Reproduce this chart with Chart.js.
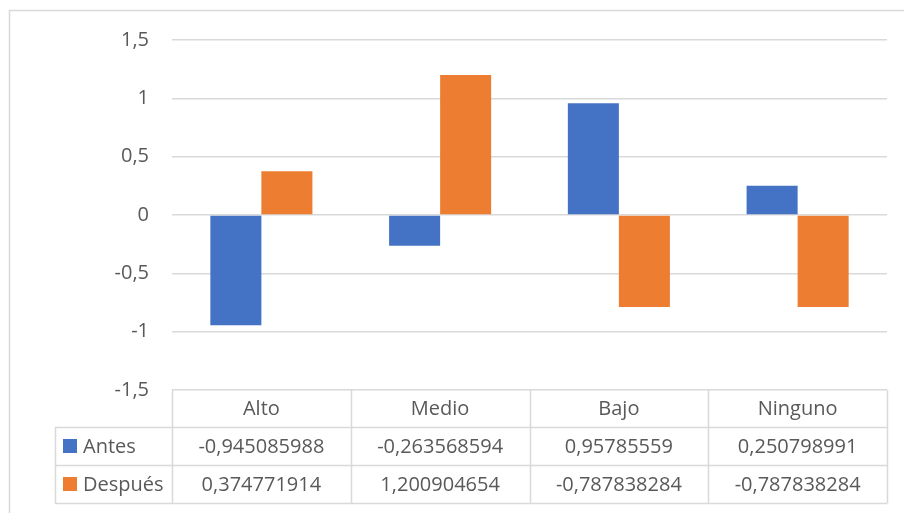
<!DOCTYPE html>
<html>
<head>
<meta charset="utf-8">
<script src="https://cdn.jsdelivr.net/npm/chart.js@4"></script>
<style>
  html, body { margin: 0; padding: 0; background: #ffffff; }
  #wrap { position: relative; width: 904px; height: 513px; }
</style>
</head>
<body>
<div id="wrap"><canvas id="chart" width="904" height="513"></canvas></div>
<script>
// Categories and series values
const categories = ['Alto', 'Medio', 'Bajo', 'Ninguno'];
const seriesNames = ['Antes', 'Después'];
const antes = [-0.945085988, -0.263568594, 0.95785559, 0.250798991];
const despues = [0.374771914, 1.200904654, -0.787838284, -0.787838284];
const seriesColors = ['#4472C4', '#ED7D31'];

const FONT = "'Open Sans', 'Noto Sans', sans-serif";
const TEXT = '#595959';
const LINE = '#D9D9D9';

const fmt = v => String(v).replace('.', ',');

// Data table drawn under the plot, aligned to the category scale
const dataTable = {
  id: 'dataTable',
  afterDraw(chart) {
    const ctx = chart.ctx;
    const x = chart.scales.x;
    const area = chart.chartArea;
    const rowH = 38.3;
    const top = area.bottom;
    const rows = [top, top + rowH - 1.5, top + 2 * rowH - 1.5, top + 3 * rowH - 1.5];
    const legendLeft = 55;
    const half = (x.getPixelForValue(1) - x.getPixelForValue(0)) / 2;
    const bounds = categories.map((c, i) => x.getPixelForValue(i) - half);
    bounds.push(x.getPixelForValue(categories.length - 1) + half);

    ctx.save();
    ctx.strokeStyle = LINE;
    ctx.lineWidth = 1.5;
    ctx.beginPath();
    // horizontal rules
    for (let r = 1; r < rows.length; r++) {
      ctx.moveTo(legendLeft, Math.round(rows[r]) + 0.5);
      ctx.lineTo(area.right, Math.round(rows[r]) + 0.5);
    }
    // vertical rules
    bounds.forEach(bx => {
      ctx.moveTo(Math.round(bx) + 0.5, top);
      ctx.lineTo(Math.round(bx) + 0.5, Math.round(rows[3]) + 0.5);
    });
    ctx.moveTo(legendLeft + 0.5, Math.round(rows[1]) + 0.5);
    ctx.lineTo(legendLeft + 0.5, Math.round(rows[3]) + 0.5);
    ctx.stroke();

    ctx.fillStyle = TEXT;
    ctx.font = '20px ' + FONT;
    ctx.textAlign = 'center';
    ctx.textBaseline = 'middle';
    categories.forEach((c, i) => {
      ctx.fillText(c, x.getPixelForValue(i), (rows[0] + rows[1]) / 2 + 1);
    });
    const series = [antes, despues];
    series.forEach((vals, s) => {
      const cy = (rows[s + 1] + rows[s + 2]) / 2 + 1;
      vals.forEach((v, i) => {
        ctx.fillText(fmt(v), x.getPixelForValue(i), cy);
      });
    });
    // legend keys in the first column
    ctx.textAlign = 'left';
    series.forEach((vals, s) => {
      const cy = (rows[s + 1] + rows[s + 2]) / 2;
      ctx.fillStyle = seriesColors[s];
      ctx.fillRect(63, Math.round(cy) - 7, 14, 14);
      ctx.fillStyle = TEXT;
      ctx.fillText(seriesNames[s], 83, cy + 1);
    });
    ctx.restore();
  }
};

// Thin outer frame of the chart object
const frame = {
  id: 'frame',
  beforeDraw(chart) {
    const ctx = chart.ctx;
    ctx.save();
    ctx.strokeStyle = LINE;
    ctx.lineWidth = 1.5;
    ctx.beginPath();
    ctx.moveTo(9.5, chart.height);
    ctx.lineTo(9.5, 10.5);
    ctx.lineTo(chart.width, 10.5);
    ctx.stroke();
    ctx.restore();
  }
};

new Chart(document.getElementById('chart'), {
  type: 'bar',
  data: {
    labels: categories,
    datasets: [
      { label: seriesNames[0], data: antes, backgroundColor: seriesColors[0] },
      { label: seriesNames[1], data: despues, backgroundColor: seriesColors[1] }
    ]
  },
  options: {
    responsive: false,
    animation: false,
    devicePixelRatio: 1,
    layout: { padding: { left: 72, top: 40, right: 17, bottom: 123 } },
    datasets: { bar: { categoryPercentage: 0.571, barPercentage: 1.0 } },
    plugins: {
      legend: { display: false },
      tooltip: { enabled: false }
    },
    scales: {
      x: {
        display: false,
        grid: { display: false }
      },
      y: {
        min: -1.5,
        max: 1.5,
        afterFit: s => { s.width = 100; },
        ticks: {
          stepSize: 0.5,
          padding: 23,
          color: TEXT,
          font: { family: FONT, size: 20 },
          callback: v => fmt(v)
        },
        grid: { color: LINE, lineWidth: 1.5, drawTicks: false },
        border: { display: false }
      }
    }
  },
  plugins: [frame, dataTable]
});
</script>
</body>
</html>
